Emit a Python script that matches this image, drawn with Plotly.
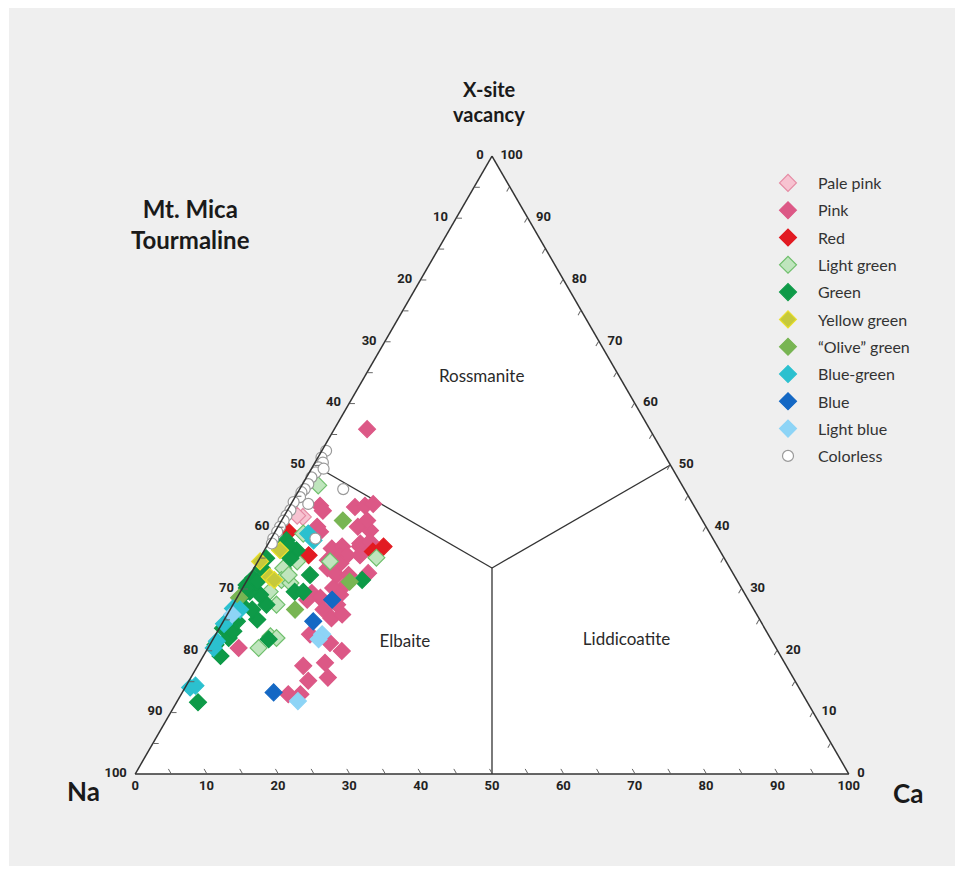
import plotly.graph_objects as go

# values, in percent: X-site vacancy and Ca (Na is the rest)
pale_pink_vac = [41.6, 41.8]
pale_pink_ca = [2.7, 1.8]

pink_vac = [55.8, 43.2, 43.4, 43.7, 43.4, 40.0, 39.4, 40.0, 36.5, 36.8, 36.8, 35.2, 34.6, 42.6,
            39.2, 37.3, 37.6, 35.4, 35.4, 34.1, 33.3, 32.2, 32.2, 30.6, 30.1, 29.3, 28.5, 29.0,
            32.5, 28.2, 26.6, 27.4, 25.2, 25.8, 22.6, 21.2, 19.9, 20.4, 17.5, 18.0, 15.1, 15.6,
            12.9, 12.9, 41.0]
pink_ca = [4.6, 9.2, 10.5, 11.5, 4.2, 11.2, 13.2, 5.5, 9.3, 10.6, 13.1, 11.1, 9.7, 5.0,
           6.3, 12.9, 14.1, 12.0, 13.8, 11.7, 10.3, 12.1, 13.8, 14.1, 12.7, 10.1, 11.7, 14.2,
           16.4, 10.0, 13.1, 14.6, 14.9, 16.1, 13.2, 16.7, 19.0, 4.3, 14.8, 17.6, 16.7, 19.2,
           15.0, 16.7, 12.0]

red_vac = [36.0, 36.8, 35.4, 39.2]
red_ca = [15.3, 16.4, 6.6, 1.9]

light_green_vac = [46.7, 35.0, 33.3, 31.4, 34.4, 34.4, 30.9, 20.4, 22.3, 22.0, 27.4, 32.2, 29.5, 38.9]
light_green_ca = [2.3, 16.3, 4.1, 4.8, 5.5, 10.1, 6.3, 7.1, 7.8, 8.8, 6.1, 5.4, 4.1, 4.1]

green_vac = [11.6, 19.1, 23.6, 22.0, 23.1, 24.7, 25.0, 26.6, 27.4, 29.0, 29.5, 30.6, 31.7, 21.8,
             29.5, 29.5, 32.2, 31.4, 27.4, 25.2, 37.8, 36.2, 31.1, 30.1, 20.9, 26.5, 28.5, 33.3,
             34.9, 36.8, 34.9, 37.0]
green_ca = [3.0, 2.4, 0.5, 2.1, 2.2, 1.9, 4.6, 3.1, 4.7, 3.0, 1.3, 0.3, 0.7, 7.8,
            7.6, 8.8, 8.4, 16.1, 1.2, 0.7, 2.3, 4.5, 1.5, 0.6, 0.8, 0.9, 0.5, 1.1,
            0.9, 1.6, 4.3, 3.0]

yellow_green_vac = [34.4, 31.9, 36.2, 31.4]
yellow_green_ca = [0.3, 2.9, 2.2, 3.8]

olive_vac = [41.0, 26.6, 31.1, 28.5]
olive_ca = [8.6, 9.1, 14.5, 0.3]

blue_green_vac = [14.0, 14.3, 21.5, 20.4, 26.8, 26.6, 38.9, 37.8, 24.3]
blue_green_ca = [0.7, 1.3, 0.7, 0.8, 0.3, 1.4, 4.8, 6.1, 0.3]

blue_vac = [28.2, 24.7, 13.2]
blue_ca = [13.5, 12.6, 12.8]

light_blue_vac = [22.6, 21.8, 11.8, 25.8]
light_blue_ca = [14.9, 14.8, 16.9, 0.7]

colorless_vac = [52.3, 51.2, 50.4, 49.6, 48.8, 49.4, 48.0, 46.9, 46.1, 45.6, 44.8, 43.7, 44.0,
                 42.7, 41.8, 41.0, 40.0, 39.2, 38.1, 37.3, 38.1, 46.1]
colorless_ca = [0.6, 0.5, 1.1, 0.9, 0.9, 1.7, 0.7, 0.8, 0.7, 0.5, 0.7, 2.4, 0.2,
                0.4, 0.3, 0.3, 0.3, 0.3, 0.3, 0.5, 6.2, 6.1]

# field boundaries (vacancy, Na, Ca)
c3 = 100 / 3
bound_vac = [50, c3, None, 50, c3, None, 0, c3]
bound_na = [50, c3, None, 0, c3, None, 50, c3]
bound_ca = [0, c3, None, 50, c3, None, 50, c3]

field_names = ["Rossmanite", "Elbaite", "Liddicoatite"]
field_vac = [64.1, 21.2, 21.5]
field_ca = [16.5, 27.2, 58.1]

ticks = list(range(0, 101, 5))
nb = "\u00a0"
left_labels = [str(100 - t) + nb * 2 if t % 10 == 0 else "" for t in ticks]
bottom_labels = [str(100 - t) if t % 10 == 0 else "" for t in ticks]
right_labels = [nb * 2 + str(100 - t) if t % 10 == 0 else "" for t in ticks]

series = [
    ("Pale pink", pale_pink_vac, pale_pink_ca, "diamond", "#f7c3d1", "#e58aa3", 13),
    ("Pink", pink_vac, pink_ca, "diamond", "#dc5886", "#dc5886", 13),
    ("Red", red_vac, red_ca, "diamond", "#e21b22", "#e21b22", 13),
    ("Light green", light_green_vac, light_green_ca, "diamond", "#bfe5bd", "#6fbf6c", 13),
    ("Green", green_vac, green_ca, "diamond", "#0e9a48", "#0e9a48", 13),
    ("Yellow green", yellow_green_vac, yellow_green_ca, "diamond", "#c6c93b", "#eadf2a", 13),
    ("\u201cOlive\u201d green", olive_vac, olive_ca, "diamond", "#78b553", "#78b553", 13),
    ("Blue-green", blue_green_vac, blue_green_ca, "diamond", "#2bc0cf", "#2bc0cf", 13),
    ("Blue", blue_vac, blue_ca, "diamond", "#1468c4", "#1468c4", 13),
    ("Light blue", light_blue_vac, light_blue_ca, "diamond", "#8dd4f6", "#8dd4f6", 13),
    ("Colorless", colorless_vac, colorless_ca, "circle", "#ffffff", "#9a9a9a", 11),
]

fig = go.Figure()

fig.add_trace(go.Scatterternary(
    a=bound_vac, b=bound_na, c=bound_ca, mode="lines",
    line=dict(color="#333333", width=1.3), showlegend=False, hoverinfo="skip"))

fig.add_trace(go.Scatterternary(
    a=field_vac, b=[100 - v - c for v, c in zip(field_vac, field_ca)], c=field_ca,
    mode="text", text=field_names, showlegend=False, hoverinfo="skip",
    textfont=dict(family="Lato", size=17, color="#2a2a2a")))

for i, (name, vac, ca, sym, fill, edge, size) in enumerate(series):
    fig.add_trace(go.Scatterternary(
        a=vac, b=[100 - v - c for v, c in zip(vac, ca)], c=ca,
        mode="markers", name=name, legendgroup=str(i), cliponaxis=False,
        marker=dict(symbol=sym, size=size, color=fill, line=dict(color=edge, width=1.2))))

axis_common = dict(
    tickmode="array", tickvals=ticks, ticks="inside", ticklen=5,
    tickcolor="#666666", linecolor="#333333", linewidth=1.5, showgrid=False,
    tickfont=dict(family="Roboto", size=13, color="#222222", weight="bold"),
    title=dict(text=""), min=0)

# plot area in pixels
ml, mr, mt, mb = 135, 115, 156, 103
W, H = 964, 877
pw, ph = W - ml - mr, H - mt - mb


def px(x):
    return (x - ml) / pw


def py(y):
    return 1 - (y - mt) / ph


def label(text, x, y, size):
    return dict(text=text, x=px(x), y=py(y), xref="paper", yref="paper",
                xanchor="center", yanchor="middle", showarrow=False,
                font=dict(family="Lato", size=size, color="#1a1a1a"))


fig.update_layout(
    width=W, height=H,
    margin=dict(l=ml, r=mr, t=mt, b=mb, autoexpand=False),
    paper_bgcolor="#ffffff",
    ternary=dict(
        sum=100, bgcolor="#ffffff",
        aaxis=dict(axis_common, ticktext=left_labels),
        baxis=dict(axis_common, ticktext=bottom_labels),
        caxis=dict(axis_common, ticktext=right_labels)),
    showlegend=True,
    legend=dict(x=px(758), y=py(166), xanchor="left", yanchor="top", tracegroupgap=3.5,
                bgcolor="rgba(0,0,0,0)", itemwidth=50,
                font=dict(family="Lato", size=16, color="#333333")),
    shapes=[dict(type="rect", xref="paper", yref="paper", x0=px(9), x1=px(955),
                 y0=py(866), y1=py(8), fillcolor="#efefef", line=dict(width=0), layer="below")],
    annotations=[
        label("<b>Mt. Mica<br>Tourmaline</b>", 190, 224, 24),
        label("<b>X-site</b>", 489, 89, 20),
        label("<b>vacancy</b>", 489, 114, 20),
        label("<b>Na</b>", 83, 791, 26),
        label("<b>Ca</b>", 908, 793, 26),
    ],
)

fig.write_html("out.html", config={"displayModeBar": False},
               post_script="document.body.style.margin = '0';")
